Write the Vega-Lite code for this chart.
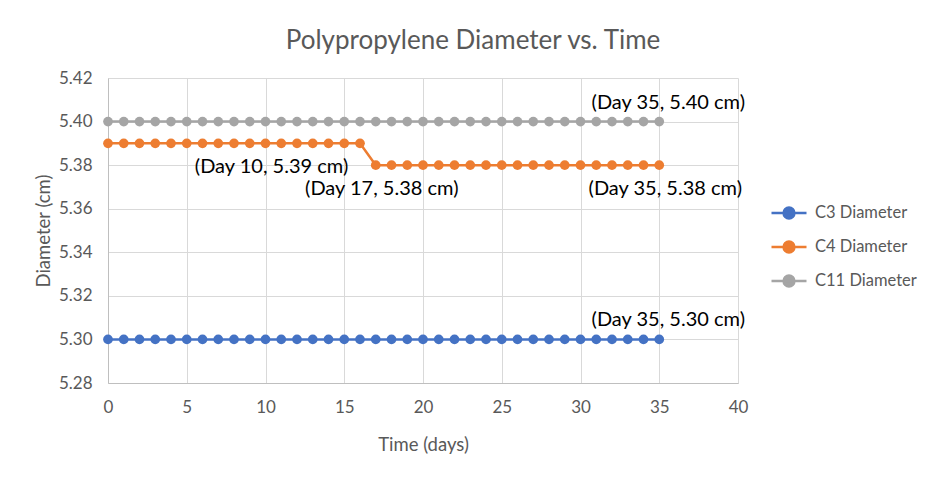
{
  "$schema": "https://vega.github.io/schema/vega-lite/v6.json",
  "width": 630,
  "height": 305,
  "autosize": {"type": "none"},
  "padding": {"left": 108, "top": 78, "right": 210, "bottom": 97},
  "background": "white",
  "config": {
    "font": "Lato",
    "view": {"stroke": null},
    "axis": {
      "labelColor": "#595959",
      "titleColor": "#595959",
      "labelFontSize": 17,
      "titleFontSize": 18.5,
      "titleFontWeight": "normal",
      "gridColor": "#D9D9D9",
      "domainColor": "#BFBFBF",
      "ticks": false,
      "labelFlush": false
    }
  },
  "title": {
    "text": "Polypropylene Diameter vs. Time",
    "fontSize": 26,
    "fontWeight": "normal",
    "color": "#595959",
    "anchor": "middle",
    "dx": 50,
    "offset": 15
  },
  "datasets": {
    "series": [
      {"day": 0, "C3 Diameter": 5.30, "C4 Diameter": 5.39, "C11 Diameter": 5.40},
      {"day": 1, "C3 Diameter": 5.30, "C4 Diameter": 5.39, "C11 Diameter": 5.40},
      {"day": 2, "C3 Diameter": 5.30, "C4 Diameter": 5.39, "C11 Diameter": 5.40},
      {"day": 3, "C3 Diameter": 5.30, "C4 Diameter": 5.39, "C11 Diameter": 5.40},
      {"day": 4, "C3 Diameter": 5.30, "C4 Diameter": 5.39, "C11 Diameter": 5.40},
      {"day": 5, "C3 Diameter": 5.30, "C4 Diameter": 5.39, "C11 Diameter": 5.40},
      {"day": 6, "C3 Diameter": 5.30, "C4 Diameter": 5.39, "C11 Diameter": 5.40},
      {"day": 7, "C3 Diameter": 5.30, "C4 Diameter": 5.39, "C11 Diameter": 5.40},
      {"day": 8, "C3 Diameter": 5.30, "C4 Diameter": 5.39, "C11 Diameter": 5.40},
      {"day": 9, "C3 Diameter": 5.30, "C4 Diameter": 5.39, "C11 Diameter": 5.40},
      {"day": 10, "C3 Diameter": 5.30, "C4 Diameter": 5.39, "C11 Diameter": 5.40},
      {"day": 11, "C3 Diameter": 5.30, "C4 Diameter": 5.39, "C11 Diameter": 5.40},
      {"day": 12, "C3 Diameter": 5.30, "C4 Diameter": 5.39, "C11 Diameter": 5.40},
      {"day": 13, "C3 Diameter": 5.30, "C4 Diameter": 5.39, "C11 Diameter": 5.40},
      {"day": 14, "C3 Diameter": 5.30, "C4 Diameter": 5.39, "C11 Diameter": 5.40},
      {"day": 15, "C3 Diameter": 5.30, "C4 Diameter": 5.39, "C11 Diameter": 5.40},
      {"day": 16, "C3 Diameter": 5.30, "C4 Diameter": 5.39, "C11 Diameter": 5.40},
      {"day": 17, "C3 Diameter": 5.30, "C4 Diameter": 5.38, "C11 Diameter": 5.40},
      {"day": 18, "C3 Diameter": 5.30, "C4 Diameter": 5.38, "C11 Diameter": 5.40},
      {"day": 19, "C3 Diameter": 5.30, "C4 Diameter": 5.38, "C11 Diameter": 5.40},
      {"day": 20, "C3 Diameter": 5.30, "C4 Diameter": 5.38, "C11 Diameter": 5.40},
      {"day": 21, "C3 Diameter": 5.30, "C4 Diameter": 5.38, "C11 Diameter": 5.40},
      {"day": 22, "C3 Diameter": 5.30, "C4 Diameter": 5.38, "C11 Diameter": 5.40},
      {"day": 23, "C3 Diameter": 5.30, "C4 Diameter": 5.38, "C11 Diameter": 5.40},
      {"day": 24, "C3 Diameter": 5.30, "C4 Diameter": 5.38, "C11 Diameter": 5.40},
      {"day": 25, "C3 Diameter": 5.30, "C4 Diameter": 5.38, "C11 Diameter": 5.40},
      {"day": 26, "C3 Diameter": 5.30, "C4 Diameter": 5.38, "C11 Diameter": 5.40},
      {"day": 27, "C3 Diameter": 5.30, "C4 Diameter": 5.38, "C11 Diameter": 5.40},
      {"day": 28, "C3 Diameter": 5.30, "C4 Diameter": 5.38, "C11 Diameter": 5.40},
      {"day": 29, "C3 Diameter": 5.30, "C4 Diameter": 5.38, "C11 Diameter": 5.40},
      {"day": 30, "C3 Diameter": 5.30, "C4 Diameter": 5.38, "C11 Diameter": 5.40},
      {"day": 31, "C3 Diameter": 5.30, "C4 Diameter": 5.38, "C11 Diameter": 5.40},
      {"day": 32, "C3 Diameter": 5.30, "C4 Diameter": 5.38, "C11 Diameter": 5.40},
      {"day": 33, "C3 Diameter": 5.30, "C4 Diameter": 5.38, "C11 Diameter": 5.40},
      {"day": 34, "C3 Diameter": 5.30, "C4 Diameter": 5.38, "C11 Diameter": 5.40},
      {"day": 35, "C3 Diameter": 5.30, "C4 Diameter": 5.38, "C11 Diameter": 5.40}
    ],
    "labels": [
      {"day": 35, "diameter": 5.40, "series": "C11 Diameter", "label": "(Day 35, 5.40 cm)"},
      {"day": 35, "diameter": 5.30, "series": "C3 Diameter", "label": "(Day 35, 5.30 cm)"},
      {"day": 10, "diameter": 5.39, "series": "C4 Diameter", "label": "(Day 10, 5.39 cm)"},
      {"day": 17, "diameter": 5.38, "series": "C4 Diameter", "label": "(Day 17, 5.38 cm)"},
      {"day": 35, "diameter": 5.38, "series": "C4 Diameter", "label": "(Day 35, 5.38 cm)"}
    ]
  },
  "layer": [
    {
      "data": {"name": "series"},
      "transform": [
        {"fold": ["C3 Diameter", "C4 Diameter", "C11 Diameter"], "as": ["series", "diameter"]}
      ],
      "mark": {"type": "line", "strokeWidth": 2.5, "point": {"filled": true, "size": 95, "opacity": 1}},
      "encoding": {
        "x": {
          "field": "day",
          "type": "quantitative",
          "title": "Time (days)",
          "scale": {"domain": [0, 40], "nice": false},
          "axis": {"values": [0, 5, 10, 15, 20, 25, 30, 35, 40], "labelPadding": 16, "titlePadding": 20}
        },
        "y": {
          "field": "diameter",
          "type": "quantitative",
          "title": "Diameter (cm)",
          "scale": {"domain": [5.28, 5.42], "nice": false, "zero": false},
          "axis": {"values": [5.28, 5.30, 5.32, 5.34, 5.36, 5.38, 5.40, 5.42], "format": ".2f", "labelPadding": 16, "titlePadding": 5}
        },
        "color": {
          "field": "series",
          "type": "nominal",
          "scale": {
            "domain": ["C3 Diameter", "C4 Diameter", "C11 Diameter"],
            "range": ["#4472C4", "#ED7D31", "#A5A5A5"]
          },
          "legend": {
            "title": null,
            "orient": "none",
            "legendX": 662,
            "legendY": 116,
            "labelFontSize": 16.5,
            "labelColor": "#595959",
            "labelOffset": 7,
            "rowPadding": 4,
            "symbolType": "M-1,0L1,0M0.31,0A0.31,0.31,0,1,1,-0.31,0A0.31,0.31,0,1,1,0.31,0Z",
            "symbolSize": 1225,
            "symbolStrokeWidth": 2.5,
            "encode": {
              "symbols": {"update": {"fill": {"scale": "color", "field": "value"}, "fillOpacity": {"value": 1}}}
            }
          }
        }
      }
    },
    {
      "data": {"name": "labels"},
      "transform": [{"filter": "datum.series != 'C4 Diameter'"}],
      "mark": {"type": "text", "fontSize": 20, "color": "black", "dy": -19, "dx": 9},
      "encoding": {
        "x": {"field": "day", "type": "quantitative"},
        "y": {"field": "diameter", "type": "quantitative"},
        "text": {"field": "label"}
      }
    },
    {
      "data": {"name": "labels"},
      "transform": [{"filter": "datum.series == 'C4 Diameter'"}],
      "mark": {"type": "text", "fontSize": 20, "color": "black", "dy": 24, "dx": 6},
      "encoding": {
        "x": {"field": "day", "type": "quantitative"},
        "y": {"field": "diameter", "type": "quantitative"},
        "text": {"field": "label"}
      }
    }
  ]
}
